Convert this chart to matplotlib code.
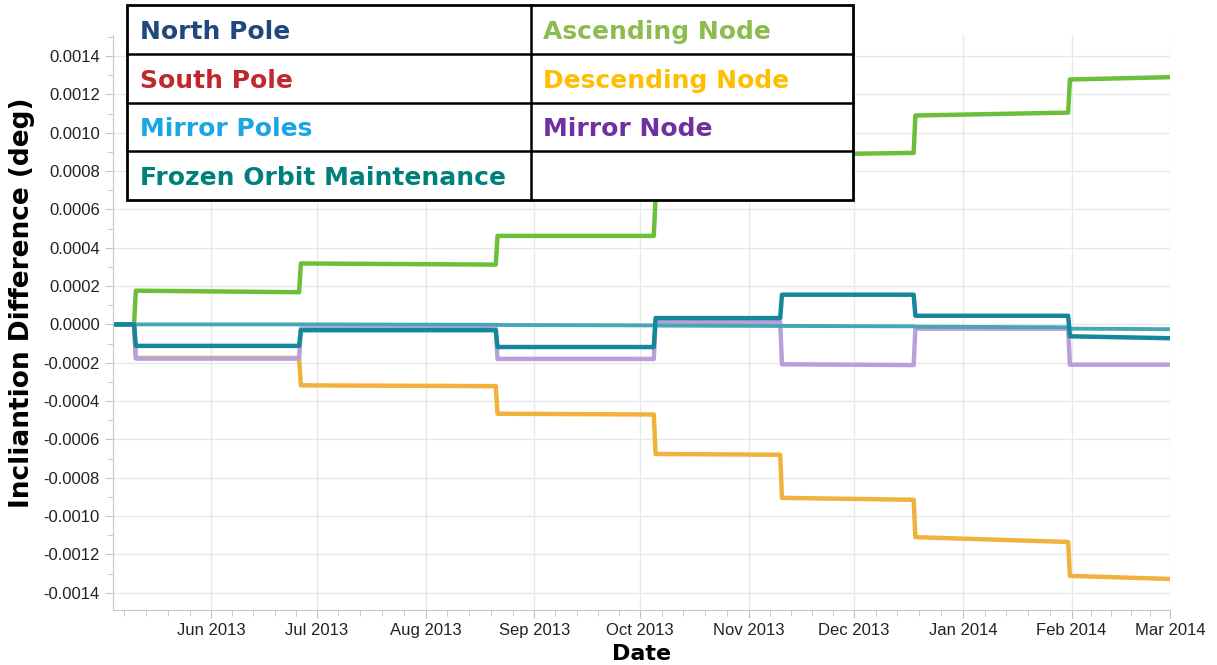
import matplotlib
matplotlib.use("Agg")
import matplotlib.pyplot as plt
import matplotlib.dates as mdates
from matplotlib.patches import Rectangle
import pandas as pd

# maneuver dates (steps) and plot range
start_date = "2013-05-04"
end_date = "2014-03-01"
maneuvers = ["2013-05-10", "2013-06-26", "2013-08-21", "2013-10-05",
             "2013-11-10", "2013-12-18", "2014-01-31"]

# level at start / end of each interval (before first maneuver, then after each)
ascending_start = [0, 0.000176, 0.000318, 0.000462, 0.000660, 0.000885, 0.001090, 0.001278]
ascending_end = [0, 0.000168, 0.000312, 0.000462, 0.000665, 0.000895, 0.001105, 0.001290]
descending_start = [0, -0.000175, -0.000318, -0.000466, -0.000676, -0.000905, -0.001110, -0.001312]
descending_end = [0, -0.000175, -0.000322, -0.000470, -0.000680, -0.000915, -0.001135, -0.001328]
mirror_node_start = [0, -0.000178, -0.000022, -0.000180, 0.000012, -0.000208, -0.000022, -0.000210]
mirror_node_end = [0, -0.000178, -0.000022, -0.000180, 0.000012, -0.000212, -0.000022, -0.000210]
mirror_poles_start = [0, 0, 0, -0.000003, -0.000006, -0.000008, -0.000012, -0.000022]
mirror_poles_end = [0, 0, -0.000002, -0.000005, -0.000008, -0.000010, -0.000015, -0.000025]
frozen_start = [0, -0.000112, -0.000030, -0.000118, 0.000033, 0.000155, 0.000045, -0.000062]
frozen_end = [0, -0.000112, -0.000030, -0.000118, 0.000033, 0.000155, 0.000045, -0.000072]

legend_left = ["North Pole", "South Pole", "Mirror Poles", "Frozen Orbit Maintenance"]
legend_left_colors = ["#1f497d", "#c0282d", "#1aa6e4", "#00807a"]
legend_right = ["Ascending Node", "Descending Node", "Mirror Node", ""]
legend_right_colors = ["#8cbc4f", "#ffbf00", "#7030a0", "black"]


def step_series(starts, ends):
    bounds = [pd.Timestamp(start_date)] + [pd.Timestamp(d) for d in maneuvers] + [pd.Timestamp(end_date)]
    xs, ys = [], []
    for i in range(len(starts)):
        x0 = bounds[i] if i == 0 else bounds[i] + pd.Timedelta(hours=12)
        xs += [x0, bounds[i + 1]]
        ys += [starts[i], ends[i]]
    return xs, ys


W, H = 1217, 665
fig = plt.figure(figsize=(W / 100, H / 100), dpi=100)
ax = fig.add_axes([113 / W, 1 - 610 / H, (1170 - 113) / W, (610 - 35) / H])

lw = 3.2
x, y = step_series(descending_start, descending_end)
ax.plot(x, y, color="#f0b23a", lw=lw)
x, y = step_series(ascending_start, ascending_end)
ax.plot(x, y, color="#6cbf3a", lw=lw)
x, y = step_series(mirror_node_start, mirror_node_end)
ax.plot(x, y, color="#b9a0d8", lw=lw)
x, y = step_series(mirror_poles_start, mirror_poles_end)
ax.plot(x, y, color="#46a6b6", lw=2.8)
x, y = step_series(frozen_start, frozen_end)
ax.plot(x, y, color="#15879a", lw=lw)

ax.set_xlim(pd.Timestamp(start_date), pd.Timestamp(end_date))
ax.set_ylim(-0.00149, 0.00151)

# axis ticks
ax.set_yticks([i * 0.0002 for i in range(-7, 8)])
ax.set_yticks([i * 0.0001 for i in range(-14, 16)], minor=True)
ax.yaxis.set_major_formatter(matplotlib.ticker.FormatStrFormatter("%.4f"))
ax.xaxis.set_major_locator(mdates.MonthLocator())
ax.xaxis.set_major_formatter(mdates.DateFormatter("%b %Y"))
months = pd.date_range("2013-05-01", "2014-03-01", freq="MS")
minor = []
for m0, m1 in zip(months[:-1], months[1:]):
    for k in range(1, 5):
        minor.append(mdates.date2num(m0 + (m1 - m0) * k / 5))
ax.set_xticks(minor, minor=True)

ax.grid(True, which="major", color="#e8e8e8", lw=1)
ax.set_axisbelow(True)
for s in ["top", "right"]:
    ax.spines[s].set_visible(False)
for s in ["left", "bottom"]:
    ax.spines[s].set_color("#c8c8c8")
ax.tick_params(which="both", direction="out", color="#c0c0c0", labelsize=12,
               labelcolor="#222222", labelfontfamily="Liberation Sans")
ax.tick_params(which="major", length=6)
ax.tick_params(which="minor", length=4)

fig.text(22 / W, 1 - 303 / H, "Incliantion Difference (deg)", rotation=90,
         ha="center", va="center", fontsize=19, fontweight="bold", family="DejaVu Sans")
fig.text(642 / W, 1 - 654 / H, "Date", ha="center", va="center",
         fontsize=16, fontweight="bold", family="DejaVu Sans")

# legend table on top of the chart
leg = fig.add_axes([127 / W, 1 - 200 / H, (853 - 127) / W, 195 / H])
leg.set_xlim(0, 1)
leg.set_ylim(0, 4)
leg.axis("off")
leg.add_patch(Rectangle((0, 0), 1, 4, facecolor="white", edgecolor="black", lw=2, clip_on=False))
split = (531 - 127) / (853 - 127)
leg.plot([split, split], [0, 4], color="black", lw=1.8, clip_on=False)
for r in range(1, 4):
    leg.plot([0, 1], [r, r], color="black", lw=1.8, clip_on=False)
for i in range(4):
    yc = 3.45 - i
    leg.text(13 / 726, yc, legend_left[i], color=legend_left_colors[i], fontsize=18,
             fontweight="bold", va="center", ha="left", family="DejaVu Sans")
    leg.text(split + 12 / 726, yc, legend_right[i], color=legend_right_colors[i], fontsize=18,
             fontweight="bold", va="center", ha="left", family="DejaVu Sans")

fig.savefig("out.png", dpi=100)
